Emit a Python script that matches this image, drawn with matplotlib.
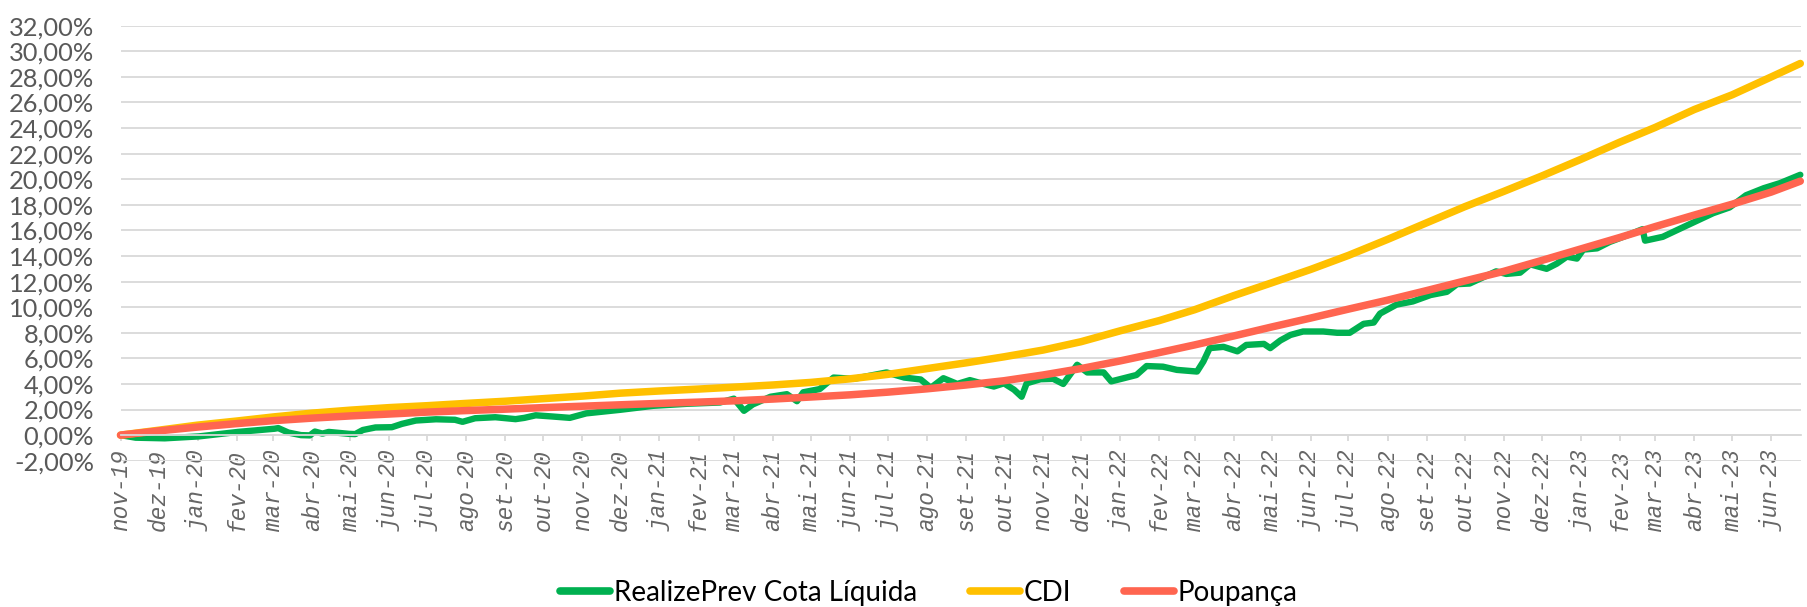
import matplotlib
matplotlib.use("Agg")
import matplotlib.pyplot as plt
import matplotlib.ticker as mticker
import pandas as pd

plt.rcParams["font.family"] = ["Lato", "DejaVu Sans"]

# RealizePrev Cota Líquida (% acumulado)
realize_datas = [
    "2019-11-01", "2019-11-13", "2019-12-06", "2020-01-02", "2020-02-02", "2020-03-02",
    "2020-03-05", "2020-03-13", "2020-03-23", "2020-03-30", "2020-04-03", "2020-04-09",
    "2020-04-14", "2020-04-30", "2020-05-05", "2020-05-11", "2020-05-21", "2020-06-03",
    "2020-06-11", "2020-06-22", "2020-07-08", "2020-07-23", "2020-07-29", "2020-08-08",
    "2020-08-24", "2020-09-09", "2020-09-16", "2020-09-25", "2020-10-09", "2020-10-22",
    "2020-11-04", "2020-12-01", "2020-12-27", "2021-01-23", "2021-02-18", "2021-03-01",
    "2021-03-09", "2021-03-16", "2021-03-30", "2021-04-12", "2021-04-20", "2021-04-25",
    "2021-05-08", "2021-05-19", "2021-06-04", "2021-06-30", "2021-07-14", "2021-07-27",
    "2021-08-04", "2021-08-14", "2021-08-25", "2021-09-04", "2021-09-15", "2021-09-23",
    "2021-10-01", "2021-10-09", "2021-10-15", "2021-10-19", "2021-10-30", "2021-11-09",
    "2021-11-17", "2021-11-28", "2021-12-06", "2021-12-19", "2021-12-25", "2022-01-04",
    "2022-01-14", "2022-01-22", "2022-02-04", "2022-02-15", "2022-03-03", "2022-03-08",
    "2022-03-13", "2022-03-24", "2022-04-04", "2022-04-11", "2022-04-25", "2022-04-30",
    "2022-05-08", "2022-05-16", "2022-05-26", "2022-06-11", "2022-06-22", "2022-07-02",
    "2022-07-13", "2022-07-21", "2022-07-26", "2022-08-08", "2022-08-21", "2022-09-04",
    "2022-09-17", "2022-09-25", "2022-10-05", "2022-10-16", "2022-10-26", "2022-11-03",
    "2022-11-14", "2022-11-22", "2022-12-05", "2022-12-13", "2022-12-21", "2022-12-29",
    "2023-01-03", "2023-01-14", "2023-01-24", "2023-02-09", "2023-02-19", "2023-02-21",
    "2023-03-07", "2023-03-21", "2023-04-03", "2023-04-16", "2023-04-29", "2023-05-12",
    "2023-05-26", "2023-06-08", "2023-06-24",
]
realize_valores = [
    0.00, -0.20, -0.25, -0.10, 0.25, 0.50,
    0.55, 0.20, 0.00, -0.02, 0.28, 0.12,
    0.25, 0.10, 0.08, 0.40, 0.60, 0.62,
    0.88, 1.14, 1.24, 1.20, 1.04, 1.32,
    1.40, 1.25, 1.35, 1.55, 1.45, 1.35,
    1.70, 1.98, 2.29, 2.45, 2.55, 2.85,
    1.90, 2.40, 3.00, 3.20, 2.65, 3.35,
    3.60, 4.50, 4.40, 4.90, 4.50, 4.35,
    3.70, 4.45, 4.00, 4.30, 4.00, 3.80,
    4.05, 3.55, 3.00, 4.05, 4.37, 4.40,
    4.00, 5.50, 4.90, 4.90, 4.20, 4.45,
    4.70, 5.40, 5.35, 5.10, 4.97, 5.75,
    6.80, 6.90, 6.55, 7.05, 7.13, 6.80,
    7.40, 7.83, 8.10, 8.10, 8.00, 8.00,
    8.70, 8.80, 9.50, 10.20, 10.45, 10.95,
    11.20, 11.80, 11.85, 12.35, 12.80, 12.60,
    12.70, 13.35, 13.00, 13.40, 13.95, 13.80,
    14.50, 14.60, 15.10, 15.70, 16.10, 15.20,
    15.50, 16.15, 16.75, 17.35, 17.80, 18.75,
    19.30, 19.70, 20.35,
]

# CDI e Poupança, início de cada mês (% acumulado)
indices_datas = [
    "2019-11-01", "2019-12-01", "2020-01-01", "2020-02-01", "2020-03-01", "2020-04-01",
    "2020-05-01", "2020-06-01", "2020-07-01", "2020-08-01", "2020-09-01", "2020-10-01",
    "2020-11-01", "2020-12-01", "2021-01-01", "2021-02-01", "2021-03-01", "2021-04-01",
    "2021-05-01", "2021-06-01", "2021-07-01", "2021-08-01", "2021-09-01", "2021-10-01",
    "2021-11-01", "2021-12-01", "2022-01-01", "2022-02-01", "2022-03-01", "2022-04-01",
    "2022-05-01", "2022-06-01", "2022-07-01", "2022-08-01", "2022-09-01", "2022-10-01",
    "2022-11-01", "2022-12-01", "2023-01-01", "2023-02-01", "2023-03-01", "2023-04-01",
    "2023-05-01", "2023-06-01", "2023-06-24",
]
cdi_valores = [
    0.00, 0.38, 0.78, 1.10, 1.42, 1.72,
    1.95, 2.15, 2.30, 2.48, 2.65, 2.85,
    3.05, 3.28, 3.45, 3.60, 3.75, 3.92,
    4.12, 4.40, 4.75, 5.20, 5.65, 6.12,
    6.65, 7.30, 8.15, 8.95, 9.80, 10.90,
    11.90, 12.95, 14.05, 15.30, 16.60, 17.85,
    19.05, 20.25, 21.55, 22.90, 24.05, 25.45,
    26.60, 28.00, 29.05,
]
poupanca_valores = [
    0.00, 0.33, 0.63, 0.90, 1.13, 1.33,
    1.50, 1.65, 1.80, 1.92, 2.03, 2.15,
    2.26, 2.37, 2.48, 2.58, 2.68, 2.82,
    2.98, 3.15, 3.36, 3.62, 3.92, 4.25,
    4.70, 5.20, 5.80, 6.45, 7.05, 7.75,
    8.45, 9.15, 9.85, 10.55, 11.30, 12.05,
    12.80, 13.65, 14.55, 15.45, 16.30, 17.20,
    18.05, 19.00, 19.85,
]

meses_pt = ["jan", "fev", "mar", "abr", "mai", "jun", "jul", "ago", "set", "out", "nov", "dez"]

realize = pd.Series(realize_valores, index=pd.to_datetime(realize_datas))
cdi = pd.Series(cdi_valores, index=pd.to_datetime(indices_datas))
poupanca = pd.Series(poupanca_valores, index=pd.to_datetime(indices_datas))

fig = plt.figure(figsize=(18.07, 6.07), dpi=100)
ax = fig.add_axes([0.0667, 0.241, 0.930, 0.7166])

# eixo horizontal cruza em 0 (mover a spine antes de mexer nos ticks)
for lado in ["top", "right", "left"]:
    ax.spines[lado].set_visible(False)
ax.spines["bottom"].set_position(("data", 0))
ax.spines["bottom"].set_color("#D9D9D9")
ax.spines["bottom"].set_linewidth(1.3)

estilo = dict(solid_capstyle="round", solid_joinstyle="round", clip_on=False)
ax.plot(realize.index, realize.values, color="#00B050", lw=4.6, label="RealizePrev Cota Líquida", **estilo)
ax.plot(cdi.index, cdi.values, color="#FFC000", lw=5.4, label="CDI", **estilo)
ax.plot(poupanca.index, poupanca.values, color="#FF6550", lw=5.4, label="Poupança", **estilo)

ax.set_xlim(pd.Timestamp("2019-11-01"), pd.Timestamp("2023-06-24 14:00"))
ax.set_ylim(-2, 32)

# eixo Y
ax.yaxis.set_major_locator(mticker.MultipleLocator(2))
ax.yaxis.set_major_formatter(mticker.FuncFormatter(lambda v, _: f"{v:.2f}".replace(".", ",") + "%"))
ax.tick_params(axis="y", length=0, pad=19, labelsize=18.3, labelcolor="#595959")
ax.yaxis.grid(True, color="#D9D9D9", lw=1.3)
ax.set_axisbelow(True)

# eixo X (datas, um tick por mês)
ticks = pd.date_range("2019-11-01", "2023-06-01", freq="MS")
ax.set_xticks(ticks)
ax.set_xticklabels([f"{meses_pt[d.month - 1]}-{d:%y}" for d in ticks])
ax.tick_params(axis="x", direction="out", length=4, width=1.3, color="#D9D9D9", pad=6,
               labelrotation=90, labelsize=16.4, labelcolor="#666666")
for rotulo in ax.get_xticklabels():
    rotulo.set_family(["Liberation Mono", "DejaVu Sans Mono"])
    rotulo.set_style("italic")

leg = fig.legend(loc="center", bbox_to_anchor=(0.514, 0.023), ncol=3, frameon=False,
                 fontsize=20.0, handlelength=1.8, handletextpad=0.14, columnspacing=1.9)
for linha in leg.get_lines():
    linha.set_linewidth(5.5)

fig.savefig("out.png", dpi=100)
